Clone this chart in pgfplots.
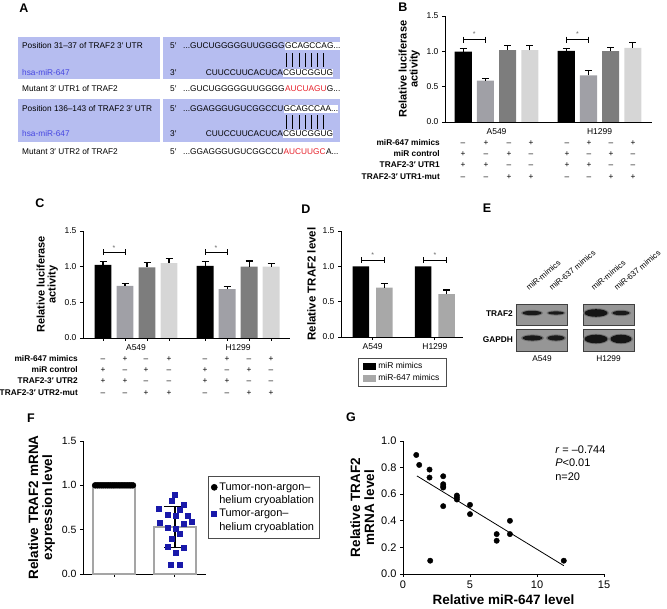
\documentclass[border=0pt]{standalone}
\usepackage{pgfplots}
\pgfplotsset{compat=1.18}
\usepackage{fontspec}
\setmainfont{Liberation Sans}
\setsansfont{Liberation Sans}
\definecolor{rowshade}{RGB}{182,189,240}
\definecolor{mirblue}{RGB}{70,70,225}
\definecolor{mutred}{RGB}{230,30,40}
\definecolor{gA}{RGB}{160,160,166}
\definecolor{gB}{RGB}{125,125,125}
\definecolor{gC}{RGB}{214,214,214}
\definecolor{gD}{RGB}{168,168,168}
\definecolor{sqblue}{RGB}{25,25,170}
\definecolor{fbar}{RGB}{165,165,165}
\definecolor{blot}{RGB}{150,150,150}
\newcommand{\fs}[1]{\fontsize{#1}{#1}\selectfont}
\pgfplotsset{
  gp/.style={
    scale only axis, clip=false,
    axis lines=left,
    axis line style={-, line width=0.9pt},
    tick align=outside,
    major tick length=3pt,
    tick style={black, line width=0.9pt},
    /pgf/number format/assume math mode=true,
    yticklabel style={/pgf/number format/.cd, fixed, fixed zerofill, precision=1},
  },
  ebar/.style={/pgfplots/error bars/y dir=plus, /pgfplots/error bars/y explicit,
    /pgfplots/error bars/error bar style={line width=1.1pt, black},
    /pgfplots/error bars/error mark options={rotate=90, mark size=3.5pt, line width=1.1pt, black}},
  sig/.style={black, line width=0.8pt, mark=|, mark size=3pt, mark options={line width=0.8pt}, forget plot},
}
\begin{document}
\begin{tikzpicture}[x=1pt,y=1pt]
\path[use as bounding box] (0,0) rectangle (667,609);

% ---------------- Panel A ----------------
\fill[rowshade] (18,530) rectangle (160,572);
\fill[rowshade] (163,530) rectangle (340,572);
\fill[rowshade] (18,467) rectangle (160,510);
\fill[rowshade] (163,467) rectangle (340,510);
\begin{scope}[every node/.style={font=\fs{8.3}, inner sep=0pt}]
\node[anchor=base west] at (22,560) {Position 31–37 of TRAF2 3′ UTR};
\node[anchor=base west, text=mirblue] at (22,533) {hsa-miR-647};
\node[anchor=base west] at (22,517) {Mutant 3′ UTR1 of TRAF2};
\node[anchor=base west] at (22,497) {Position 136–143 of TRAF2 3′ UTR};
\node[anchor=base west, text=mirblue] at (22,472) {hsa-miR-647};
\node[anchor=base west] at (22,454) {Mutant 3′ UTR2 of TRAF2};
\foreach \y/\p in {560/5′,533/3′,517/5′,497/5′,472/3′,454/5′}
  \node[anchor=base west] at (170,\y) {\p};
% row 1
\node[anchor=base west] (s1) at (183,560) {...GUCUGGGGGUUGGGG};
\node[anchor=base west, fill=white, inner ysep=1.2pt] at (s1.base east) {GCAGCCAG...};
\node[anchor=base east] at (283,533) {CUUCCUUCACUCA};
\node[anchor=base west, fill=white, inner ysep=1.2pt] at (283,533) {CGUCGGUG};
\foreach \i in {0,...,6} \draw[line width=0.6pt] ({286.5+6.2*\i},542) -- ++(0,14);
\node[anchor=base west] (m1) at (183,517) {...GUCUGGGGGUUGGGG};
\node[anchor=base west, text=mutred] (m1b) at (m1.base east) {AUCUAGU};
\node[anchor=base west] at (m1b.base east) {G...};
% row 3
\node[anchor=base west] (s3) at (183,497) {...GGAGGGUGUCGGCCU};
\node[anchor=base west, fill=white, inner ysep=1.2pt] at (s3.base east) {GCAGCCAA...};
\node[anchor=base east] at (283,472) {CUUCCUUCACUCA};
\node[anchor=base west, fill=white, inner ysep=1.2pt] at (283,472) {CGUCGGUG};
\foreach \i in {0,...,6} \draw[line width=0.6pt] ({286.5+6.2*\i},480) -- ++(0,14);
\node[anchor=base west] (m2) at (183,454) {...GGAGGGUGUCGGCCU};
\node[anchor=base west, text=mutred] (m2b) at (m2.base east) {AUCUUGC};
\node[anchor=base west] at (m2b.base east) {A...};
\end{scope}

% ---------------- Panel B ----------------
\begin{axis}[gp, at={(445pt,487pt)}, anchor=south west, width=207pt, height=106pt,
  xmin=0.18, xmax=9.5, ymin=0, ymax=1.5, ytick={0,0.5,1,1.5},
  xtick={2.5,7.14}, xticklabels={A549,H1299}, xtick style={draw=none},
  tick label style={font=\fs{8.5}},
  ylabel={Relative luciferase\\activity},
  ylabel style={font=\bfseries\fs{11}, align=center},
]
\addplot[ybar, bar width=0.77, fill=black, draw=none, ebar] coordinates {(1,0.994) +- (0,0.045) (5.64,1.008) +- (0,0.028)};
\addplot[ybar, bar width=0.77, fill=gA, draw=none, ebar] coordinates {(2,0.586) +- (0,0.034) (6.64,0.66) +- (0,0.067)};
\addplot[ybar, bar width=0.77, fill=gB, draw=none, ebar] coordinates {(3,1.017) +- (0,0.07) (7.64,1.003) +- (0,0.052)};
\addplot[ybar, bar width=0.77, fill=gC, draw=none, ebar] coordinates {(4,1.017) +- (0,0.06) (8.64,1.05) +- (0,0.07)};
\addplot[sig] coordinates {(1,1.167) (2,1.167)};
\addplot[sig] coordinates {(5.64,1.167) (6.64,1.167)};
\node[font=\fs{7}, text=black!60] at (axis cs:1.5,1.24) {*};
\node[font=\fs{7}, text=black!60] at (axis cs:6.14,1.24) {*};
\end{axis}
\begin{scope}[every node/.style={font=\bfseries\fs{8.3}, inner sep=0pt, anchor=base east}]
\node at (440,463) {miR-647 mimics};
\node at (440,452) {miR control};
\node at (440,441) {TRAF2-3′ UTR1};
\node at (440,429) {TRAF2-3′ UTR1-mut};
\end{scope}
\foreach \x/\a/\b/\c/\d in {463/–/+/+/–,486/+/–/+/–,509/–/+/–/+,531/+/–/–/+,567/–/+/+/–,589/+/–/+/–,611/–/+/–/+,633/+/–/–/+}{
  \node[anchor=base, font=\fs{8.3}, inner sep=0pt] at (\x,463) {\a};
  \node[anchor=base, font=\fs{8.3}, inner sep=0pt] at (\x,452) {\b};
  \node[anchor=base, font=\fs{8.3}, inner sep=0pt] at (\x,441) {\c};
  \node[anchor=base, font=\fs{8.3}, inner sep=0pt] at (\x,429) {\d};
}

% ---------------- Panel C ----------------
\begin{axis}[gp, at={(83pt,271pt)}, anchor=south west, width=207pt, height=107pt,
  xmin=0.09, xmax=9.5, ymin=0, ymax=1.5, ytick={0,0.5,1,1.5},
  xtick={1,2,3,4,5.64,6.64,7.64,8.64}, xticklabels={},
  tick label style={font=\fs{8.5}},
  ylabel={Relative luciferase\\activity},
  ylabel style={font=\bfseries\fs{11}, align=center},
]
\addplot[ybar, bar width=0.77, fill=black, draw=none, ebar] coordinates {(1,1.025) +- (0,0.045) (5.64,1.01) +- (0,0.06)};
\addplot[ybar, bar width=0.77, fill=gA, draw=none, ebar] coordinates {(2,0.73) +- (0,0.03) (6.64,0.685) +- (0,0.035)};
\addplot[ybar, bar width=0.77, fill=gB, draw=none, ebar] coordinates {(3,0.99) +- (0,0.065) (7.64,1.0) +- (0,0.08)};
\addplot[ybar, bar width=0.77, fill=gC, draw=none, ebar] coordinates {(4,1.05) +- (0,0.065) (8.64,1.0) +- (0,0.04)};
\addplot[sig] coordinates {(1,1.2) (2,1.2)};
\addplot[sig] coordinates {(5.64,1.2) (6.64,1.2)};
\node[font=\fs{7}, text=black!60] at (axis cs:1.5,1.26) {*};
\node[font=\fs{7}, text=black!60] at (axis cs:6.14,1.26) {*};
\node[font=\fs{8.5}, anchor=north] at (axis cs:2.5,0) [yshift=-3pt] {A549};
\node[font=\fs{8.5}, anchor=north] at (axis cs:7.14,0) [yshift=-3pt] {H1299};
\end{axis}
\begin{scope}[every node/.style={font=\bfseries\fs{8.3}, inner sep=0pt, anchor=base east}]
\node at (78,247) {miR-647 mimics};
\node at (78,236) {miR control};
\node at (78,225) {TRAF2-3′ UTR2};
\node at (78,213) {TRAF2-3′ UTR2-mut};
\end{scope}
\foreach \x/\a/\b/\c/\d in {103/–/+/+/–,125/+/–/+/–,146/–/+/–/+,169/+/–/–/+,205/–/+/+/–,227/+/–/+/–,249/–/+/–/+,271/+/–/–/+}{
  \node[anchor=base, font=\fs{8.3}, inner sep=0pt] at (\x,247) {\a};
  \node[anchor=base, font=\fs{8.3}, inner sep=0pt] at (\x,236) {\b};
  \node[anchor=base, font=\fs{8.3}, inner sep=0pt] at (\x,225) {\c};
  \node[anchor=base, font=\fs{8.3}, inner sep=0pt] at (\x,213) {\d};
}

% ---------------- Panel D ----------------
\begin{axis}[gp, at={(341pt,272pt)}, anchor=south west, width=122pt, height=106pt,
  xmin=0.15, xmax=5.36, ymin=0, ymax=1.5, ytick={0,0.5,1,1.5},
  xtick={1.5,4.16}, xticklabels={A549,H1299},
  tick label style={font=\fs{8.5}},
  ylabel={Relative TRAF2 level}, ylabel style={font=\bfseries\fs{11.5}},
  legend style={at={(axis description cs:0.14,-0.2)}, anchor=north west, font=\fs{8.5},
    draw=black!70, line width=0.6pt, inner xsep=5pt, inner ysep=2pt, row sep=0.5pt,
    cells={anchor=west}},
  legend image code/.code={\fill[#1] (0pt,-3.5pt) rectangle (13pt,3.5pt);},
]
\addplot[ybar, bar width=0.7, fill=black, draw=none] coordinates {(1,1.0) (3.66,1.0)};
\addplot[ybar, bar width=0.7, fill=gD, draw=none, ebar] coordinates {(2,0.70) +- (0,0.06) (4.66,0.605) +- (0,0.06)};
\addplot[sig] coordinates {(1,1.088) (2,1.088)};
\addplot[sig] coordinates {(3.66,1.088) (4.66,1.088)};
\node[font=\fs{7}, text=black!60] at (axis cs:1.5,1.155) {*};
\node[font=\fs{7}, text=black!60] at (axis cs:4.16,1.155) {*};
\legend{miR mimics, miR-647 mimics}
\end{axis}

% ---------------- Panel E ----------------
\foreach \bx in {516,583}{
  \fill[blot] (\bx,284) rectangle ++(51,21);
  \fill[blot] (\bx,258) rectangle ++(51,22);
  \draw[black!75, line width=0.8pt] (\bx,284) rectangle ++(51,21);
  \draw[black!75, line width=0.8pt] (\bx,258) rectangle ++(51,22);
}
\fill[black!55] (532,296) ellipse (11 and 3.2);
\fill[black!90] (532,296) ellipse (9.5 and 2.2);
\fill[black!55] (556,296) ellipse (9.5 and 2.6);
\fill[black!90] (556,296) ellipse (8 and 1.6);
\fill[black!55] (532.5,271) ellipse (11.5 and 3.6);
\fill[black!90] (532.5,271) ellipse (10 and 2.6);
\fill[black!55] (556,271) ellipse (10 and 3.6);
\fill[black!90] (556,271) ellipse (8.5 and 2.6);
\fill[black!55] (596,296) ellipse (13 and 4.8);
\fill[black!92] (596,296) ellipse (11.5 and 3.8);
\fill[black!55] (621,296) ellipse (10 and 3.2);
\fill[black!90] (621,296) ellipse (8.5 and 2.2);
\fill[black!55] (596,270) ellipse (13 and 5.2);
\fill[black!92] (596,270) ellipse (11.5 and 4.3);
\fill[black!55] (621,270) ellipse (12 and 5.2);
\fill[black!92] (621,270) ellipse (10.5 and 4.3);
\node[anchor=east, font=\bfseries\fs{8.3}, inner sep=0pt] at (513,295) {TRAF2};
\node[anchor=east, font=\bfseries\fs{8.3}, inner sep=0pt] at (513,269) {GAPDH};
\node[font=\fs{8.3}] at (542,250) {A549};
\node[font=\fs{8.3}] at (608.5,250) {H1299};
\foreach \x/\t in {529/miR-mimics,552/miR-637 mimics,594/miR-mimics,617/miR-637 mimics}
  \node[anchor=base west, rotate=40, font=\fs{8}, inner sep=0pt] at (\x,318) {\t};

% ---------------- Panel F ----------------
\begin{axis}[gp, at={(83pt,35pt)}, anchor=south west, width=123pt, height=133pt,
  xmin=0.49, xmax=2.51, ymin=0, ymax=1.5, ytick={0,0.5,1,1.5},
  xtick={1,2}, xticklabels={},
  tick label style={font=\fs{10.5}},
  ylabel={Relative TRAF2 mRNA\\expression level},
  ylabel style={font=\bfseries\fontsize{13.5}{14}\selectfont, align=center},
  legend style={at={(axis description cs:1.016,0.737)}, anchor=north west,
    font=\fs{11}, draw=black!70, line width=0.6pt,
    inner xsep=3pt, inner ysep=4.5pt, row sep=0pt, cells={anchor=west}},
  legend image code/.code={\draw[mark repeat=2, mark phase=2, #1] plot coordinates {(0pt,0pt) (3pt,0pt) (10pt,0pt)};},
]
\addplot[ybar, bar width=0.68, fill=white, draw=fbar, line width=2pt, forget plot] coordinates {(1,1.0) (2,0.53)};
\addplot[only marks, mark=*, mark size=3pt, black] coordinates {
(0.69,1) (0.723,1) (0.755,1) (0.788,1) (0.82,1) (0.853,1) (0.886,1) (0.918,1) (0.951,1) (0.984,1)
(1.016,1) (1.049,1) (1.082,1) (1.114,1) (1.147,1) (1.18,1) (1.212,1) (1.245,1) (1.277,1) (1.31,1)};
\addlegendentry{Tumor-non-argon–}
\addlegendimage{empty legend}
\addlegendentry{helium cryoablation}
\addplot[only marks, mark=square*, mark size=2.5pt, sqblue] coordinates {
(2.0,0.896) (1.94,0.825) (1.74,0.739) (2.14,0.784) (2.07,0.72) (1.88,0.67) (2.01,0.652) (2.21,0.652)
(1.75,0.577) (1.88,0.52) (2.14,0.57) (2.27,0.589) (2.01,0.506) (2.07,0.45) (1.94,0.40) (1.88,0.307)
(2.14,0.30) (2.01,0.244) (1.93,0.10) (2.08,0.10)};
\addlegendentry{Tumor-argon–}
\addlegendimage{empty legend}
\addlegendentry{helium cryoablation}
\addplot[forget plot, draw=none, mark=none,
  /pgfplots/error bars/y dir=both, /pgfplots/error bars/y explicit,
  /pgfplots/error bars/error bar style={line width=1.6pt, black},
  /pgfplots/error bars/error mark options={rotate=90, mark size=11pt, line width=1.6pt, black}]
  coordinates {(2,0.53) +- (0,0.23)};
\end{axis}

% ---------------- Panel G ----------------
\begin{axis}[gp, at={(403pt,35pt)}, anchor=south west, width=201pt, height=133pt,
  xmin=0, xmax=15, ymin=0, ymax=1, xtick={0,5,10,15}, ytick={0,0.2,0.4,0.6,0.8,1},
  tick label style={font=\fs{11}},
  xlabel={Relative miR-647 level}, xlabel style={font=\bfseries\fs{13.5}},
  ylabel={Relative TRAF2\\mRNA level},
  ylabel style={font=\bfseries\fontsize{13.5}{14}\selectfont, align=center},
]
\addplot[only marks, mark=*, mark size=2.7pt, black] coordinates {
(0.99,0.895) (1.21,0.82) (1.98,0.785) (1.98,0.725) (2.03,0.10) (3.0,0.735) (3.0,0.675) (3.0,0.65)
(3.0,0.51) (4.02,0.59) (4.02,0.575) (4.02,0.56) (5.0,0.52) (5.0,0.45) (6.99,0.30) (6.99,0.25)
(7.98,0.40) (7.98,0.30) (12.0,0.10) (3.0,0.66)};
\addplot[black, line width=0.8pt] coordinates {(1.04,0.7375) (12,0.0625)};
\node[anchor=west, font=\fs{11}] at (axis cs:11.1,0.932) {\textit{r} = –0.744};
\node[anchor=west, font=\fs{11}] at (axis cs:11.1,0.835) {\textit{P}<0.01};
\node[anchor=west, font=\fs{11}] at (axis cs:11.1,0.73) {n=20};
\end{axis}

% ---------------- Panel letters ----------------
\begin{scope}[every node/.style={font=\bfseries\fs{12.5}}]
\node at (24,601) {A};
\node at (403,602) {B};
\node at (40,406) {C};
\node at (306,400) {D};
\node at (487,401) {E};
\node at (31,191) {F};
\node at (351,192) {G};
\end{scope}
\end{tikzpicture}
\end{document}
